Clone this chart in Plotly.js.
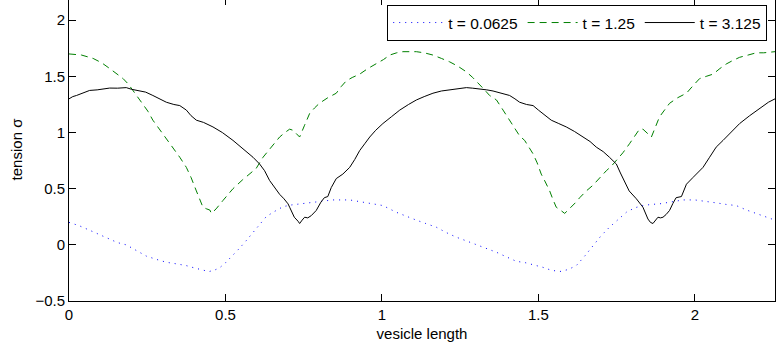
<!DOCTYPE html>
<html>
<head>
<meta charset="utf-8">
<script src="https://cdn.plot.ly/plotly-3.0.1.min.js"></script>
<style>
html,body{margin:0;padding:0;background:#fff;overflow:hidden;}
#chart{position:absolute;left:0;top:-2px;width:776px;height:355px;}
</style>
</head>
<body>
<div id="chart"></div>
<script>
// t = 0.0625 (blue dotted)
const xBlue = [0,0.033,0.066,0.1,0.13,0.155,0.183,0.215,0.247,0.28,0.311,0.345,0.375,0.4,0.418,0.447,0.465,0.481,0.5,0.524,0.545,0.567,0.585,0.609,0.63,0.652,0.684,0.71,0.737,0.79,0.843,0.897,0.95,1.003,1.046,1.08,1.11,1.14,1.174,1.205,1.238,1.27,1.302,1.335,1.366,1.4,1.429,1.46,1.49,1.514,1.54,1.568,1.595,1.621,1.648,1.674,1.7,1.727,1.755,1.781,1.808,1.834,1.861,1.887,1.92,1.962,2.0,2.035,2.068,2.1,2.132,2.165,2.196,2.225,2.256];
const yBlue = [0.20,0.17,0.13,0.09,0.05,0.02,0.0,-0.05,-0.10,-0.13,-0.155,-0.17,-0.185,-0.205,-0.22,-0.238,-0.225,-0.205,-0.16,-0.095,-0.03,0.04,0.10,0.19,0.25,0.29,0.34,0.355,0.365,0.38,0.40,0.40,0.374,0.35,0.29,0.25,0.22,0.19,0.157,0.11,0.068,0.035,0.003,-0.03,-0.066,-0.11,-0.146,-0.16,-0.18,-0.20,-0.225,-0.238,-0.22,-0.185,-0.10,-0.006,0.08,0.157,0.23,0.29,0.33,0.35,0.36,0.365,0.38,0.40,0.40,0.39,0.374,0.36,0.35,0.31,0.28,0.25,0.22];

// t = 1.25 (green dashed)
const xGreen = [0,0.04,0.077,0.105,0.13,0.15,0.173,0.19,0.204,0.22,0.236,0.252,0.268,0.284,0.3,0.316,0.332,0.354,0.375,0.39,0.407,0.418,0.428,0.44,0.45,0.455,0.47,0.492,0.524,0.555,0.577,0.598,0.62,0.645,0.673,0.69,0.705,0.716,0.727,0.737,0.752,0.769,0.785,0.8,0.827,0.854,0.87,0.886,0.905,0.929,0.955,0.982,1.005,1.025,1.047,1.067,1.09,1.11,1.135,1.163,1.19,1.216,1.243,1.27,1.29,1.312,1.328,1.344,1.366,1.387,1.403,1.419,1.44,1.456,1.47,1.483,1.496,1.509,1.522,1.536,1.547,1.557,1.57,1.584,1.595,1.605,1.62,1.632,1.653,1.674,1.696,1.717,1.733,1.749,1.77,1.791,1.808,1.823,1.834,1.847,1.861,1.874,1.887,1.903,1.919,1.945,1.973,1.995,2.015,2.036,2.058,2.08,2.1,2.12,2.143,2.17,2.196,2.22,2.256];
const yGreen = [1.70,1.69,1.66,1.62,1.57,1.53,1.48,1.43,1.375,1.32,1.26,1.19,1.11,1.05,0.99,0.93,0.87,0.78,0.69,0.60,0.48,0.40,0.335,0.32,0.31,0.28,0.32,0.395,0.50,0.58,0.63,0.68,0.78,0.87,0.96,1.00,1.03,1.02,0.99,0.96,1.06,1.17,1.22,1.26,1.31,1.35,1.41,1.46,1.49,1.52,1.57,1.61,1.65,1.69,1.71,1.72,1.72,1.72,1.71,1.69,1.66,1.63,1.59,1.54,1.49,1.43,1.38,1.33,1.29,1.20,1.13,1.05,0.97,0.93,0.87,0.81,0.73,0.63,0.56,0.48,0.40,0.335,0.31,0.28,0.31,0.335,0.38,0.42,0.48,0.53,0.60,0.66,0.70,0.75,0.82,0.90,0.97,1.03,1.03,1.00,0.96,1.05,1.14,1.20,1.26,1.31,1.35,1.42,1.48,1.50,1.52,1.57,1.61,1.64,1.67,1.69,1.71,1.71,1.72];

// t = 3.125 (black solid)
const xBlack = [0,0.012,0.024,0.045,0.066,0.09,0.11,0.13,0.155,0.183,0.2,0.226,0.245,0.268,0.29,0.311,0.335,0.354,0.375,0.39,0.407,0.43,0.46,0.49,0.524,0.555,0.588,0.609,0.625,0.641,0.657,0.673,0.687,0.7,0.705,0.72,0.732,0.737,0.745,0.753,0.763,0.774,0.79,0.805,0.816,0.827,0.838,0.854,0.875,0.897,0.913,0.929,0.945,0.961,0.98,1.003,1.03,1.057,1.085,1.11,1.135,1.163,1.19,1.216,1.245,1.27,1.29,1.312,1.335,1.355,1.38,1.408,1.425,1.44,1.462,1.483,1.5,1.514,1.541,1.565,1.589,1.615,1.642,1.665,1.685,1.707,1.727,1.749,1.762,1.775,1.79,1.813,1.834,1.85,1.858,1.866,1.874,1.882,1.89,1.898,1.908,1.919,1.93,1.94,1.957,1.973,1.994,2.015,2.026,2.047,2.068,2.09,2.111,2.143,2.175,2.2,2.217,2.235,2.256];
const yBlack = [1.30,1.32,1.33,1.35,1.375,1.38,1.39,1.396,1.395,1.40,1.385,1.37,1.36,1.33,1.30,1.27,1.25,1.24,1.20,1.15,1.11,1.09,1.05,1.00,0.93,0.86,0.78,0.72,0.66,0.573,0.51,0.45,0.41,0.365,0.335,0.246,0.21,0.19,0.22,0.246,0.24,0.26,0.306,0.38,0.42,0.43,0.51,0.59,0.63,0.69,0.76,0.84,0.90,0.96,1.02,1.08,1.14,1.20,1.25,1.29,1.32,1.35,1.37,1.38,1.39,1.40,1.395,1.39,1.38,1.37,1.35,1.33,1.30,1.27,1.25,1.24,1.20,1.17,1.11,1.08,1.05,1.01,0.96,0.92,0.87,0.83,0.78,0.72,0.64,0.57,0.48,0.41,0.335,0.23,0.20,0.19,0.22,0.246,0.24,0.246,0.27,0.306,0.37,0.42,0.43,0.54,0.60,0.66,0.69,0.78,0.87,0.93,0.99,1.08,1.15,1.20,1.24,1.27,1.30];

const xTicks = [0,0.5,1,1.5,2];
const xTickText = ['0','0.5','1','1.5','2'];
const yTicks = [-0.5,0,0.5,1,1.5,2];
const yTickText = ['\u22120.5','0','0.5','1','1.5','2'];
const names = ['t = 0.0625','t = 1.25','t = 3.125'];

const font = {family:'Liberation Sans, Arial, sans-serif', size:15, color:'#000'};
const legendFont = {family:'Liberation Sans, Arial, sans-serif', size:15.5, color:'#000'};

const traces = [
  {x:xBlue, y:yBlue, name:names[0], mode:'lines', line:{color:'#0000ff', width:1, dash:'1px,5px'}},
  {x:xGreen, y:yGreen, name:names[1], mode:'lines', line:{color:'#008000', width:1, dash:'7px,5px'}},
  {x:xBlack, y:yBlack, name:names[2], mode:'lines', line:{color:'#000000', width:1}}
];

const axisCommon = {
  showgrid:false, zeroline:false, showline:true, linecolor:'#000', linewidth:1,
  mirror:'ticks', ticks:'inside', ticklen:7, tickcolor:'#000', tickwidth:1,
  tickfont:font, automargin:false
};

const layout = {
  width:776, height:355,
  margin:{l:69, r:1, t:0, b:52},
  paper_bgcolor:'#fff', plot_bgcolor:'#fff',
  font:font,
  showlegend:true,
  legend:{orientation:'h', xanchor:'right', x:0.989, yanchor:'top', y:0.977,
    bordercolor:'#000', borderwidth:1, bgcolor:'#fff', font:legendFont, itemwidth:50},
  xaxis:Object.assign({}, axisCommon, {range:[0,2.256], tickvals:xTicks, ticktext:xTickText,
    title:{text:'vesicle length', font:font, standoff:6}}),
  yaxis:Object.assign({}, axisCommon, {range:[-0.5,2.198], tickvals:yTicks, ticktext:yTickText,
    title:{text:'tension \u03c3', font:font, standoff:9}})
};

Plotly.newPlot('chart', traces, layout, {displayModeBar:false, staticPlot:true});
</script>
</body>
</html>
